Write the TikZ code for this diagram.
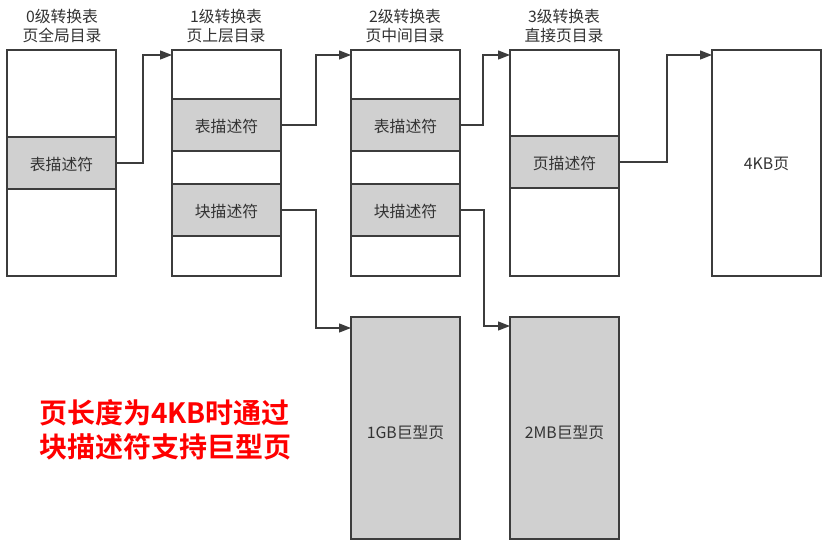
\documentclass[tikz,border=0pt]{standalone}
\usepackage{fontspec}
\newfontfamily\cjk{Noto Sans CJK SC}
\newfontfamily\cjkbold{Noto Sans CJK SC Bold}
\usetikzlibrary{arrows.meta}
\definecolor{edge}{HTML}{3C3C3C}
\definecolor{cell}{HTML}{D0D0D0}
\definecolor{ink}{HTML}{333333}
\definecolor{alert}{HTML}{FF0000}
\begin{document}
\begin{tikzpicture}[x=1pt,y=-1pt,
  every node/.style={font=\cjk\fontsize{15.8}{18.5}\selectfont, text=ink},
  table/.style={draw=edge, line width=1.3pt, fill=white, inner sep=0pt, outer sep=0pt,
    minimum width=109pt, minimum height=226pt, anchor=north west},
  entry/.style={draw=edge, line width=1.3pt, fill=cell, inner sep=0pt, outer sep=0pt,
    minimum width=109pt, minimum height=52pt, anchor=north west,
    text height=16pt, text depth=1pt},
  hugepage/.style={draw=edge, line width=1.3pt, fill=cell, inner sep=0pt, outer sep=0pt,
    minimum width=109pt, minimum height=222pt, anchor=north west,
    text height=20pt, text depth=-3pt},
  title/.style={align=center, inner sep=0pt},
  link/.style={draw=edge, line width=1.3pt, -{Triangle[length=12pt,width=9pt]}}]
\useasboundingbox (0,0) rectangle (835,553);

% translation tables, levels 0 to 3, and the final 4KB page
\node[table] (c0) at (7,50) {};
\node[table] (c1) at (172,50) {};
\node[table] (c2) at (351,50) {};
\node[table] (c3) at (510,50) {};
\node[table] (p4) at (712,50) {};
\node at ([yshift=-1pt]p4.center) {4KB页};

% descriptors inside the tables
\node[entry] (d0) at (7,137) {表描述符};
\node[entry] (t1) at (172,99) {表描述符};
\node[entry] (b1) at (172,184) {块描述符};
\node[entry] (t2) at (351,99) {表描述符};
\node[entry] (b2) at (351,184) {块描述符};
\node[entry] (d3) at (510,136) {页描述符};

% huge pages reached through block descriptors
\node[hugepage] (g1) at (351,317) {1GB巨型页};
\node[hugepage] (m2) at (510,317) {2MB巨型页};

% column headings
\node[title] (h0) at (62,26) {0级转换表\\页全局目录};
\node[title] (h1) at (226,26) {1级转换表\\页上层目录};
\node[title] (h2) at (405,26) {2级转换表\\页中间目录};
\node[title] (h3) at (564,26) {3级转换表\\直接页目录};

% descriptor links
\draw[link] (d0.east) -- ++(27,0) |- ([yshift=-5pt]c1.north west);
\draw[link] (t1.east) -- ++(35,0) |- ([yshift=-5pt]c2.north west);
\draw[link] (t2.east) -- ++(23,0) |- ([yshift=-5pt]c3.north west);
\draw[link] (d3.east) -- ++(48,0) |- ([yshift=-5pt]p4.north west);
\draw[link] (b1.east) -- ++(35,0) |- ([yshift=-11pt]g1.north west);
\draw[link] (b2.east) -- ++(24,0) |- ([yshift=-9pt]m2.north west);

% note
\node[anchor=west, align=left, inner sep=0pt, text=alert,
  font=\cjkbold\fontsize{28}{34}\selectfont] (note) at (39,430)
  {页长度为4KB时通过\\块描述符支持巨型页};
\end{tikzpicture}
\end{document}
